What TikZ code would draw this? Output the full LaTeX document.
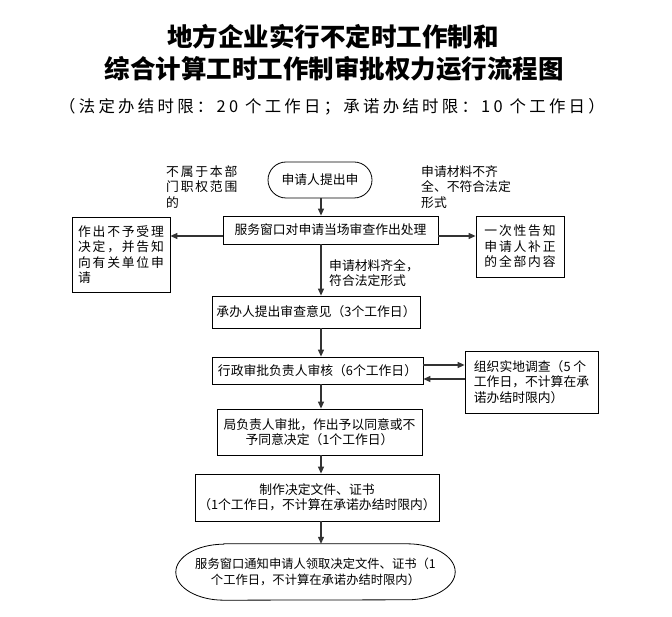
\documentclass[tikz,border=0pt]{standalone}
\usepackage{fontspec}
\setmainfont{Noto Sans CJK SC}
\newfontfamily\subfont[LetterSpace=20]{Noto Sans CJK SC}
\newfontfamily\spfont[LetterSpace=14]{Noto Sans CJK SC}
\usetikzlibrary{arrows.meta}
\newcommand{\bodyfont}{\fontsize{12.8}{15.5}\selectfont}
\begin{document}
\begin{tikzpicture}[x=1pt,y=-1pt,
  box/.style={draw, line width=0.8pt, inner sep=0pt, align=center, font=\bodyfont},
  lbl/.style={inner sep=0pt, align=left, anchor=north west, font=\bodyfont},
  arr/.style={draw=black!80, line width=1.2pt, -{Triangle[length=7pt,width=6pt]}},
  titlestyle/.style={inner sep=0pt, font=\fontsize{25.5}{28}\selectfont\bfseries}]
\useasboundingbox (0,0) rectangle (672,617);
% titles
\node[titlestyle] (t1) at (333,37) {地方企业实行不定时工作制和};
\node[titlestyle] (t2) at (334,69) {综合计算工时工作制审批权力运行流程图};
\node[inner sep=0pt, font=\subfont\fontsize{16.4}{18}\selectfont, text=black] (t3) at (332,107) {（法定办结时限：20 个工作日；承诺办结时限：10 个工作日）};
% column for vertical arrows
\coordinate (col) at (321,0);
% nodes
\node[box, rounded corners=18pt, minimum width=104pt, minimum height=36pt] (start) at (320,180) {申请人提出申};
\node[box, minimum width=215pt, minimum height=28pt] (main) at (330.5,230) {服务窗口对申请当场审查作出处理};
\node[box, align=left, font=\spfont\bodyfont, minimum width=98pt, minimum height=75pt] (reject) at (121,254.5) {作出不予受理\\决定，并告知\\向有关单位申\\请};
\node[box, align=left, font=\spfont\bodyfont, minimum width=88pt, minimum height=61pt] (correct) at (520,246.5) {一次性告知\\申请人补正\\的全部内容};
\node[lbl, font=\spfont\bodyfont] (l1) at (166,165) {不属于本部\\门职权范围\\的};
\node[lbl] (l2) at (421,165) {申请材料不齐\\全、不符合法定\\形式};
\node[lbl] (l3) at (329,259) {申请材料齐全，\\符合法定形式};
\node[box, minimum width=208pt, minimum height=32pt] (opinion) at (316,312) {承办人提出审查意见（3个工作日）};
\node[box, minimum width=211pt, minimum height=27pt] (review) at (317.5,370.5) {行政审批负责人审核（6个工作日）};
\node[box, align=left, minimum width=133pt, minimum height=62pt] (site) at (531.5,382) {组织实地调查（5 个\\工作日，不计算在承\\诺办结时限内）};
\node[box, minimum width=205pt, minimum height=46pt] (approve) at (319.5,432) {局负责人审批，作出予以同意或不\\予同意决定（1个工作日）};
\node[box, minimum width=244pt, minimum height=47pt] (make) at (317,497.5) {制作决定文件、证书\\（1个工作日，不计算在承诺办结时限内）};
\node[inner sep=0pt, align=center, font=\fontsize{12.3}{16}\selectfont, minimum width=279pt, minimum height=56pt] (notify) at (315.5,572) {服务窗口通知申请人领取决定文件、证书（1\\个工作日，不计算在承诺办结时限内）};
\draw[line width=0.8pt] ([xshift=48pt]notify.north west) -- ([xshift=-48pt]notify.north east)
  arc[start angle=90, end angle=-90, x radius=48pt, y radius=28pt]
  -- ([xshift=48pt]notify.south west)
  arc[start angle=270, end angle=90, x radius=48pt, y radius=28pt] -- cycle;
% connectors
\draw[arr] (start.south -| col) -- (main.north -| col);
\draw[arr] ([yshift=-6pt]main.west) -- ([yshift=-6pt]main.west -| reject.east);
\draw[arr] ([yshift=-6pt]main.east) -- ([yshift=-6pt]main.east -| correct.west);
\draw[arr] (main.south -| col) -- (opinion.north -| col);
\draw[arr] (opinion.south -| col) -- (review.north -| col);
\draw[arr] ([yshift=5.5pt]review.east) -- ([yshift=5.5pt]review.east -| site.west);
\draw[arr] ([yshift=-8.5pt]review.east -| site.west) -- ([yshift=-8.5pt]review.east);
\draw[arr] (review.south -| col) -- (approve.north -| col);
\draw[arr] (approve.south -| col) -- (make.north -| col);
\draw[arr] (make.south -| col) -- (notify.north -| col);
\end{tikzpicture}
\end{document}
